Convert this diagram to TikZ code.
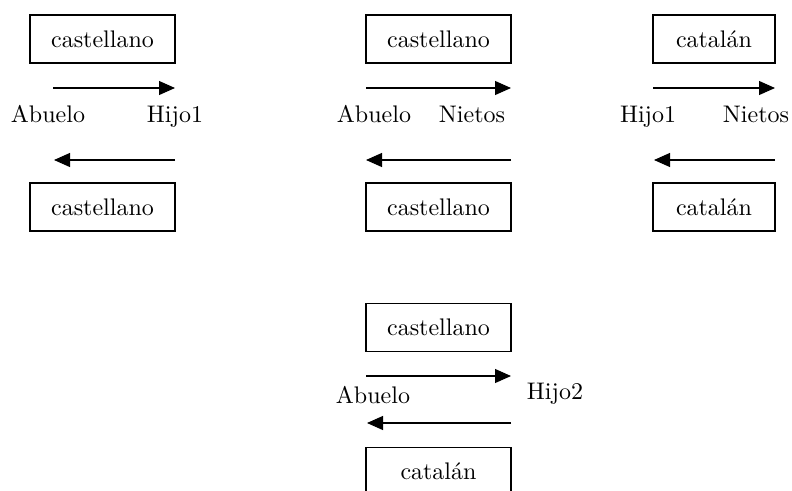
\documentclass[tikz,border=0pt]{standalone}
\usepackage{fontspec}
\setmainfont{lmroman10-regular}[Extension=.otf]
\usetikzlibrary{arrows.meta}
\begin{document}
\begin{tikzpicture}[x=1pt,y=-1pt,
  lang/.style={draw,line width=1.4pt,minimum width=145pt,minimum height=48pt,inner sep=0pt,
    font=\fontsize{24}{28}\selectfont},
  who/.style={anchor=base,inner sep=0pt,font=\fontsize{24}{28}\selectfont},
  flow/.style={line width=1.1pt,-{Triangle[length=16pt,width=14pt]}}]
\useasboundingbox (0,0) rectangle (792,490);
% group 1
\node[lang] (b1t) at (102.5,39) {castellano};
\node[lang] (b1b) at (102.5,207) {castellano};
\node[who] (l1a) at (48,122) {Abuelo};
\node[who] (l1b) at (175,122) {Hijo1};
\coordinate (a1s) at (53,88); \coordinate (a1e) at (175,88);
\coordinate (a2s) at (175,160); \coordinate (a2e) at (54,160);
\draw[flow] (a1s) -- (a1e);
\draw[flow] (a2s) -- (a2e);
% group 2
\node[lang] (b2t) at (438.5,39) {castellano};
\node[lang] (b2b) at (438.5,207) {castellano};
\node[who] (l2a) at (374,122) {Abuelo};
\node[who] (l2b) at (472,122) {Nietos};
\coordinate (a3s) at (366,88); \coordinate (a3e) at (511,88);
\coordinate (a4s) at (511,160); \coordinate (a4e) at (366,160);
\draw[flow] (a3s) -- (a3e);
\draw[flow] (a4s) -- (a4e);
% group 3
\node[lang,minimum width=122pt] (b3t) at (714,39) {catalán};
\node[lang,minimum width=122pt] (b3b) at (714,207) {catalán};
\node[who] (l3a) at (648,122) {Hijo1};
\node[who] (l3b) at (756,122) {Nietos};
\coordinate (a5s) at (653,88); \coordinate (a5e) at (775,88);
\coordinate (a6s) at (775,160); \coordinate (a6e) at (654,160);
\draw[flow] (a5s) -- (a5e);
\draw[flow] (a6s) -- (a6e);
% group 4
\node[lang] (b4t) at (438.5,327.5) {castellano};
\node[lang,anchor=north] (b4b) at (438.5,447) {catalán};
\node[who] (l4a) at (373,403) {Abuelo};
\node[who] (l4b) at (555,399) {Hijo2};
\coordinate (a7s) at (366,376); \coordinate (a7e) at (511,376);
\coordinate (a8s) at (511,423); \coordinate (a8e) at (367,423);
\draw[flow] (a7s) -- (a7e);
\draw[flow] (a8s) -- (a8e);
\end{tikzpicture}
\end{document}
